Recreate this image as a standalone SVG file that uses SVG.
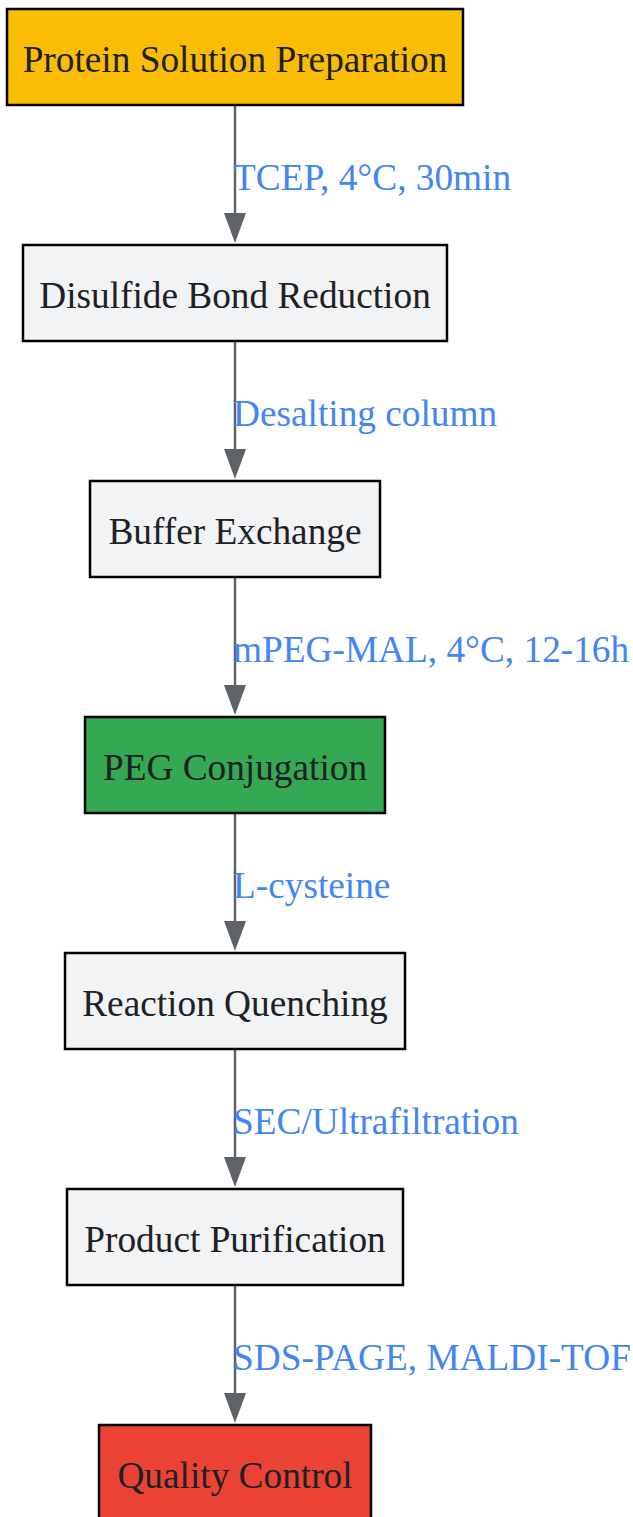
<svg xmlns="http://www.w3.org/2000/svg" width="633" height="1517" viewBox="0 0 633 1517">
<defs>
<style>
.n rect{stroke:#000;stroke-width:2.5}
.n text{font-family:"Liberation Serif","Times New Roman",serif;font-size:37.3px;fill:#202124;text-anchor:middle;dominant-baseline:central}
.e line{stroke:#5f6368;stroke-width:2.5}
.e path{fill:#5f6368}
.e text{font-family:"Liberation Serif","Times New Roman",serif;font-size:37.3px;fill:#4285f4;dominant-baseline:central}
</style>
</defs>
<rect width="633" height="1517" fill="#fff"/>
<g id="connectors" class="e">
<line x1="235" y1="105" x2="235" y2="213"/><path d="M224,213 L246,213 L235,243 Z"/>
<text x="233" y="177">TCEP, 4°C, 30min</text>
<line x1="235" y1="341" x2="235" y2="449"/><path d="M224,449 L246,449 L235,479 Z"/>
<text x="233" y="413">Desalting column</text>
<line x1="235" y1="577" x2="235" y2="685"/><path d="M224,685 L246,685 L235,715 Z"/>
<text x="233" y="649">mPEG-MAL, 4°C, 12-16h</text>
<line x1="235" y1="813" x2="235" y2="921"/><path d="M224,921 L246,921 L235,951 Z"/>
<text x="233" y="885">L-cysteine</text>
<line x1="235" y1="1049" x2="235" y2="1157"/><path d="M224,1157 L246,1157 L235,1187 Z"/>
<text x="233" y="1121">SEC/Ultrafiltration</text>
<line x1="235" y1="1285" x2="235" y2="1393"/><path d="M224,1393 L246,1393 L235,1423 Z"/>
<text x="233" y="1357">SDS-PAGE, MALDI-TOF</text>
</g>
<g id="n1" class="n"><rect x="7" y="9" width="456" height="96" fill="#fbbc04"/><text x="235" y="59">Protein Solution Preparation</text></g>
<g id="n2" class="n"><rect x="23" y="245" width="424" height="96" fill="#f1f3f4"/><text x="235" y="295">Disulfide Bond Reduction</text></g>
<g id="n3" class="n"><rect x="90" y="481" width="290" height="96" fill="#f1f3f4"/><text x="235" y="531">Buffer Exchange</text></g>
<g id="n4" class="n"><rect x="85" y="717" width="300" height="96" fill="#34a853"/><text x="235" y="767">PEG Conjugation</text></g>
<g id="n5" class="n"><rect x="65" y="953" width="340" height="96" fill="#f1f3f4"/><text x="235" y="1003">Reaction Quenching</text></g>
<g id="n6" class="n"><rect x="67" y="1189" width="336" height="96" fill="#f1f3f4"/><text x="235" y="1239">Product Purification</text></g>
<g id="n7" class="n"><rect x="99" y="1425" width="272" height="96" fill="#ea4335"/><text x="235" y="1475">Quality Control</text></g>
</svg>
